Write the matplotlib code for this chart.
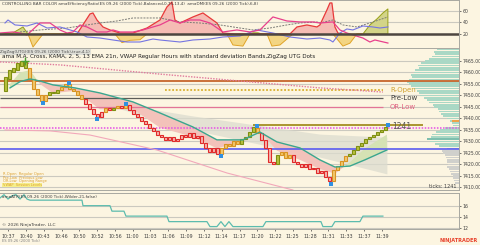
import numpy as np
import matplotlib.pyplot as plt

BG = '#fcf5e1'
GRID = '#cbc9bf'
TXT = '#404040'

# ---- price bars (2000 tick bars) ----
opens = [7452, 7457, 7460, 7461, 7463, 7464.5, 7462, 7457, 7453, 7450,
         7447.5, 7450, 7451.5, 7451, 7452.5, 7453.5, 7455, 7453, 7452, 7450,
         7448.5, 7446.5, 7444, 7442, 7440.5, 7443, 7444.5, 7443.5, 7444.5, 7445.5,
         7444.5, 7446, 7443.5, 7442, 7440.5, 7439, 7437.5, 7436, 7434.5, 7433,
         7432, 7430.5, 7432, 7430, 7431, 7433, 7432, 7433.5, 7431.5, 7432.5,
         7429.5, 7427, 7425.5, 7427, 7424.5, 7427, 7429, 7428, 7430, 7429,
         7431, 7432, 7434, 7436, 7433.5, 7430.5, 7427, 7421, 7420, 7424,
         7425.5, 7423, 7424, 7421, 7420, 7419, 7420, 7418, 7418.5, 7416.5,
         7417, 7414.5, 7413, 7417.5, 7419.5, 7421.5, 7423.5, 7424.5, 7426.5, 7428,
         7429.5, 7431, 7432, 7433, 7434, 7435]
closes = [7458, 7461, 7462, 7464, 7465, 7462, 7457, 7453, 7450, 7447.5,
          7450, 7451.5, 7451, 7452.5, 7453.5, 7455, 7453, 7452, 7450, 7448.5,
          7446.5, 7444, 7442, 7440.5, 7443, 7444.5, 7443.5, 7444.5, 7445.5, 7444.5,
          7446, 7443.5, 7442, 7440.5, 7439, 7437.5, 7436, 7434.5, 7433, 7432,
          7430.5, 7432, 7430, 7431, 7433, 7432, 7433.5, 7431.5, 7432.5, 7429.5,
          7427, 7425.5, 7427, 7424.5, 7427, 7429, 7428, 7430, 7429, 7431,
          7432, 7434, 7436.5, 7433.5, 7430.5, 7427, 7421, 7420, 7424, 7425.5,
          7423, 7424, 7421, 7420, 7419, 7420, 7418, 7418.5, 7416.5, 7417,
          7414.5, 7413, 7417.5, 7419.5, 7421.5, 7423.5, 7424.5, 7426.5, 7428, 7429.5,
          7431, 7432, 7433, 7434, 7435, 7436.5]
# controlling bar colour state: g=up, o=neutral, r=down
regime = ("gggggg" "ooooo" "ggg" "oooooo" "rrrr" "ror" "gor" "o"
          "rrrrrrrrrrrrrrrrrrrrrrr" "ooooo" "gggg" "orrrrg" "ooo" "rrrrrrrrrr"
          "oooo" "gggggggggg")

# zigzag swing dots and MA cross marker
zig_x = [9.25, 15.75, 22.75, 30, 53.75, 62.75, 81.25, 95.5]
zig_y = [7446.8, 7455.4, 7439.6, 7446.3, 7423.9, 7436.9, 7411.5, 7437.0]
cross_x, cross_y = 4.75, 7465.2

# EMA 21 (teal) and KAMA
ma_x = [1, 3.5, 6, 8.5, 11.75, 17.25, 23.5, 31.75, 38.5, 46.75, 52.75, 59.25,
        63.5, 67.75, 73.5, 78.5, 82.25, 86, 89.75, 95.25]
ema = [7453.3, 7456, 7457.2, 7456.3, 7454.6, 7453.3, 7451.1, 7447.2, 7442.4, 7436.3,
       7430.7, 7430.7, 7434.1, 7429.8, 7427.2, 7422, 7418.9, 7419.3, 7422, 7426.3]
kama = [7455, 7460, 7461, 7455, 7451, 7452, 7444, 7444, 7436, 7432,
        7427, 7430, 7434.5, 7426, 7422, 7418, 7416, 7421, 7427, 7433]

# VWAP std-dev band (grey wedge)
band_x = [22.5, 46.75, 78.5, 95.25]
band_up = [7448.0, 7441.1, 7433.2, 7431.9]
band_lo = [7447.2, 7435.0, 7423.2, 7415.9]
# upper (dotted pink) and lower (thin pink) VWAP lines
vu_x = [-1.5, 13.5, 38.5, 78.5, 94.25]
vu_y = [7464.6, 7463.3, 7459.3, 7453.3, 7451.5]
vl_x = [-0.25, 11, 21, 27.75, 37.75, 55.25, 71.75]
vl_y = [7435, 7434.6, 7432.8, 7430.2, 7426.3, 7416.3, 7408.9]

# volume profile
prof_price = list(range(7470, 7411, -1))
prof_vol = [22, 25, 24, 27, 30, 34, 38, 41, 40, 44, 45, 48, 47, 50, 52, 50, 48, 45,
            42, 40, 39, 35, 32, 30, 26, 25, 21, 20, 18, 16, 12, 9, 7, 6, 14, 19, 23,
            27, 28, 32, 29, 24, 20, 12, 17, 16, 14, 13, 12, 12, 11, 12, 10, 9, 8, 6,
            6, 5, 4]

# ---- upper indicator panel ----
blue_x = [-0.25, 0.5, 2.25, 5.25, 7.75, 10.25, 13.5, 17.75, 20.25, 23.5, 26.75, 30.25,
          33.5, 36.75, 38.5, 43.5, 46.75, 51, 54.25, 58.5, 62.75, 66.75, 71, 75.25,
          78.5, 81, 81.75, 83.5, 85.25, 86.75, 89.25, 91.75, 93.5, 95.5]
blue_v = [39.1, 44.3, 35.7, 33.9, 39.1, 30.4, 32.2, 23.5, 14.8, 13, 9.6, 6.1,
          6.1, 11.3, 9.6, 6.1, 9.6, 11.3, 14.8, 16.5, 27, 21.7, 14.8, 11.3,
          13, 9.6, 6.1, 21.7, 28.7, 27, 33.9, 32.2, 30.4, 32.2]
red_x = [17.75, 21, 21.75, 22.75, 24.25, 26, 28.5, 31.75, 35.25, 38.5, 40.25, 41.5,
         42.25, 43.5, 46.75, 49.25, 51, 52.75, 53.5, 54.25, 57.25, 71, 72.75, 75.25,
         77.75, 78.5, 80.25, 81, 81.5, 82.25, 83, 84]
red_v = [20, 54.8, 56.5, 44.3, 32.2, 27, 21.7, 21.7, 30.4, 44.3, 67, 75.6,
         44.3, 39.1, 49.6, 56.5, 47.8, 39.1, 30.4, 21.7, 20, 20, 32.2, 35.7,
         32.2, 35.7, 61.7, 73.9, 73.9, 32.2, 21.7, 20]
pink_x = [-1.5, 1.75, 3.5, 5.25, 8.5, 11, 13.5, 15.25, 16.75, 18.5, 20.25, 22.75,
          25.25, 26.75, 28.5, 31.75, 34.25, 36.75, 38.5, 41, 43.5, 46, 48.5, 51,
          54.25, 57.75, 61, 63.5, 66.75, 68.5, 70.25, 73.5, 76.75, 78.5, 81.75, 83.5,
          85.25, 86.75, 89.25, 91, 92.25, 95.5]
pink_v = [21.7, 23.5, 21.7, 18.3, 39.1, 39.1, 27, 21.7, 23.5, 35.7, 32.2, 23.5,
          23.5, 27, 23.5, 23.5, 27, 32.2, 35.7, 44.3, 39.1, 44.3, 44.3, 39.1,
          23.5, 27, 23.5, 27, 49.6, 46.1, 42.6, 40.9, 40.9, 39.1, 40.9, 27,
          21.7, 18.3, 13, 6.1, 9.6, 4.3]
gray_x = [3.5, 8.5, 15.25, 20.25, 23.5, 27.75, 31.75, 36.75, 38.5, 43.5, 48.5, 53.5,
          58.5, 61.75, 66, 70.25, 73.5, 77.75, 78.5, 81.75, 84.25, 87.75, 91, 95.5]
gray_v = [23.5, 27, 30.4, 35.7, 39.1, 42.6, 47.8, 47.8, 47.8, 40.9, 39.1, 35.7,
          30.4, 27, 30.4, 35.7, 39.1, 40.9, 39.1, 44.3, 35.7, 32.2, 39.1, 49.6]
osc_x = [-1.5, 1.75, 4.25, 5.5, 6.75, 9.25, 27.25, 29, 31, 33.5, 35.25, 55.25,
         56.75, 59.25, 61, 61.75, 63, 64, 65.25, 66.5, 68.5, 71.75, 81.75, 84.25,
         86, 87.75, 89.25, 91, 92.75, 94.25, 95.5]
osc_v = [20, 22, 32.2, 20, -2.6, 20, 20, 5, 9, 10, 20, 20,
         0.9, -1, 20, 22, 22, 20, 20, -1, 0.9, 20, 20, -1,
         4, 20, 20, 35.7, 46.1, 56.5, 63.5]

# ---- lower indicator panel ----
atr_x = [-1.5, -0.5, 0.5, 1.5, 2.5, 3.5, 4.5, 5.25, 6, 19, 19.25, 26, 26.5, 29.5,
         30, 40.25, 40.75, 50.25, 51, 52.75, 53.75, 54.75, 55.75, 56.75, 64.25, 65,
         78.75, 79.25, 81.5, 82.25, 88.5, 89.25, 94.25]
atr_v = [17.4, 18.0, 17.2, 17.8, 18.0, 17.2, 18.0, 17.2, 17.0, 17.0, 16.0, 16.0, 15.0,
         15.0, 14.1, 14.1, 13.1, 13.1, 12.2, 12.2, 13.1, 12.2, 13.1, 12.2, 12.2, 13.1,
         13.1, 12.2, 12.2, 13.1, 13.1, 14.1, 14.1]

time_labels = ['10:37', '10:40', '10:43', '10:46', '10:50', '10:52', '10:56', '11:00',
               '11:03', '11:06', '11:09', '11:12', '11:14', '11:17', '11:20', '11:22',
               '11:25', '11:28', '11:31', '11:33', '11:37', '11:39']
time_pos = [0.5, 5, 9.4, 13.9, 18.3, 22.8, 27.2, 31.7, 36.1, 40.6, 45, 49.5,
            53.9, 58.4, 62.8, 67.3, 71.7, 76.2, 80.6, 85.1, 89.5, 94]

XMIN, XMAX = -1.5, 113.25

fig = plt.figure(figsize=(4.8, 2.45), dpi=100, facecolor=BG)
ax_top = fig.add_axes([0, 0.806, 0.956, 0.194])
ax = fig.add_axes([0, 0.2245, 0.956, 0.5796])
ax_bot = fig.add_axes([0, 0.0653, 0.956, 0.1469])

for a in (ax_top, ax, ax_bot):
    a.set_facecolor(BG)
    a.set_xlim(XMIN, XMAX)
    a.yaxis.tick_right()
    a.tick_params(axis='y', labelsize=3.3, colors=TXT, length=1.5, width=0.5, pad=1)
    a.spines['left'].set_visible(False)
    for s in ('right', 'top', 'bottom'):
        a.spines[s].set_color('#a8a8a0')
        a.spines[s].set_linewidth(0.7)
    a.grid(axis='y', color=GRID, lw=0.8, zorder=0)
    a.set_axisbelow(True)
for a in (ax_top, ax):
    a.set_xticks([])

# ---- top panel ----
ax_top.set_ylim(-3.5, 79)
ax_top.set_yticks([20, 40, 60])
ov = np.array(osc_v)
ax_top.fill_between(osc_x, ov, 20, where=ov >= 20, interpolate=True,
                    facecolor='#d3d488', edgecolor='#98a018', lw=0.7, zorder=2)
ax_top.fill_between(osc_x, ov, 20, where=ov <= 20, interpolate=True,
                    facecolor='#f3d583', edgecolor='#e0a428', lw=0.7, zorder=2)
rv = np.array(red_v)
ax_top.fill_between(red_x, rv, 20, where=rv >= 20, interpolate=True,
                    facecolor='#f5bcb4', lw=0, zorder=2)
ax_top.plot(red_x, red_v, color='#e83a3a', lw=0.9, zorder=3)
ax_top.plot(gray_x, gray_v, color='#7c7c78', lw=0.7, ls=(0, (2, 1.2)), zorder=3)
ax_top.plot(blue_x, blue_v, color='#7474e2', lw=0.8, zorder=3)
ax_top.plot(pink_x, pink_v, color='#e8408c', lw=0.9, zorder=3)
ax_top.axhline(20, color='#4d4640', lw=1.8, zorder=4)
ax_top.text(0.004, 0.96, 'CONTROLLING BAR COLOR amaEfficiencyRatio(ES 09-26 (2000 Tick),Balanced,0.75,13,4)'
            '  amaDMI(ES 09-26 (2000 Tick),6,8)', transform=ax_top.transAxes,
            fontsize=3.0, color=TXT, va='top', ha='left')

# ---- main price panel ----
ax.set_ylim(7408.9, 7470.65)
ax.set_yticks(range(7410, 7470, 5))
ax.set_yticklabels([f'{v:.2f}' for v in range(7410, 7470, 5)])

# volume profile
for p, v in zip(prof_price, prof_vol):
    c = '#aad8c5' if p >= 7427 else '#d0d0cc'
    ax.barh(p, v * 0.25, left=XMAX - v * 0.25, height=0.75, color=c, lw=0, zorder=1)
ax.barh(7431, 8.0, left=XMAX - 8.0, height=0.6, color='#7fbfae', lw=0, zorder=1)
ax.barh(7439, 1.8, left=XMAX - 1.8, height=0.9, color='#eea24a', lw=0, zorder=1)

# vwap band + ma fills
ax.fill_between(band_x, band_lo, band_up, color='#dcdccf', alpha=0.75, lw=0, zorder=1.5)
ke, km = np.array(ema), np.array(kama)
ax.fill_between(ma_x, km, ke, where=km <= ke, interpolate=True, color='#f3c2ba', lw=0, zorder=2)
ax.fill_between(ma_x, km, ke, where=km >= ke, interpolate=True, color='#d5e2b4', lw=0, zorder=2)

# level lines
ax.hlines(7456.2, XMIN, XMAX, color='#c6652c', lw=1.3, zorder=2.5)
ax.hlines(7452.4, 39.75, 94.25, color='#d8b030', lw=1.3, linestyles=(0, (1, 1)), zorder=2.5)
ax.hlines(7449.1, XMIN, 94.25, color='#5c5c58', lw=0.9, zorder=2.5)
ax.hlines(7444.8, XMIN, 94.25, color='#e27496', lw=0.9, zorder=2.5)
ax.hlines(7437.2, 61.75, 104.25, color='#a48d22', lw=1.3, zorder=2.5)
ax.hlines(7435.9, XMIN, XMAX, color='#e450e6', lw=1.1, linestyles=(0, (1, 1)), zorder=2.5)
ax.hlines(7426.7, XMIN, XMAX, color='#5b5bf0', lw=1.2, zorder=2.5)
ax.plot(vu_x, vu_y, color='#e07a9c', lw=1.0, ls=(0, (1, 1)), zorder=2.5)
ax.plot(vl_x, vl_y, color='#f2a8ba', lw=0.8, zorder=2.5)

# candles
edge = {'g': '#7f8f12', 'o': '#d99322', 'r': '#e02a2a'}
face = {'g': '#b9c140', 'o': '#f1c76e', 'r': '#f6b4ae'}
idx = np.arange(len(opens))
o, c = np.array(opens), np.array(closes)
for k in 'gor':
    m = np.array([r == k for r in regime])
    ax.bar(idx[m], np.abs(c - o)[m], bottom=np.minimum(o, c)[m], width=0.75,
           color=face[k], edgecolor=edge[k], lw=0.8, zorder=3)

ax.plot(ma_x, ema, color='#3aa68e', lw=1.0, zorder=3.5)
ax.scatter(zig_x, zig_y, s=5, marker='s', color='#3190e0', zorder=4, lw=0)
ax.scatter([cross_x], [cross_y], s=30, marker='+', color='#4aa030', lw=1.0, zorder=4)

ax.text(96.0, 7452.4, 'R-Open', fontsize=5, color='#d0a230', va='center')
ax.text(96.0, 7449.1, 'Pre-Low', fontsize=5, color='#3c3c3c', va='center')
ax.text(96.0, 7444.8, 'OR-Low', fontsize=5, color='#e06080', va='center')
ax.text(96.5, 7436.4, '1241', fontsize=5.5, color='#585858', va='center')
ax.text(112.7, 7410.6, 'ticks: 1241', fontsize=3.6, color=TXT, ha='right', va='center')

ax.text(0.0, 0.985, 'ZigZag(UTG)(ES 09-26 (2000 Tick),true,4,1)', transform=ax.transAxes,
        fontsize=3.0, color='#505050', va='top', ha='left',
        bbox=dict(boxstyle='square,pad=0.25', fc='#deded6', ec='none'))
ax.text(0.004, 0.955, 'ama M.A. Cross, KAMA, 2, 5, 13 EMA 21n, VWAP Regular Hours with standard deviation Bands,ZigZag UTG Dots',
        transform=ax.transAxes, fontsize=4.1, color='#202020', va='top', ha='left')
legend_lines = ['R-Open  Regular Open', 'Pre-Low  Previous Low', 'OR-Low  Opening Range', 'VWAP  Session Levels']
for j, t in enumerate(legend_lines):
    ax.text(0.006, 0.128 - j * 0.026, t, transform=ax.transAxes, fontsize=2.6,
            color='#dca030', va='top', ha='left',
            bbox=dict(boxstyle='square,pad=0.1', fc='#f6ee8a', ec='none') if j == 3 else None)

# ---- lower panel ----
ax_bot.set_ylim(11.76, 18.3)
ax_bot.set_yticks([12, 14, 16])
ax_bot.plot(atr_x, atr_v, color='#5cbcae', lw=0.9, zorder=3)
ax_bot.set_xticks(time_pos)
ax_bot.set_xticklabels(time_labels)
ax_bot.tick_params(axis='x', labelsize=3.4, colors=TXT, length=1.5, width=0.5, pad=2)
ax_bot.text(0.004, 0.95, 'amaATR(ES 09-26 (2000 Tick),Wilder,21,false)', transform=ax_bot.transAxes,
            fontsize=3.0, color=TXT, va='top', ha='left')
ax_bot.text(0.004, 0.06, '\u00a9 2026 NinjaTrader, LLC', transform=ax_bot.transAxes,
            fontsize=3.2, color=TXT, va='bottom', ha='left')

fig.text(0.004, 0.008, 'ES 09-26 (2000 Tick)', fontsize=2.6, color='#808080', va='bottom')
fig.text(0.996, 0.008, 'NINJATRADER', fontsize=3.6, color='#e8402a', weight='bold',
         va='bottom', ha='right')

fig.savefig('out.png', dpi=100, facecolor=BG)
